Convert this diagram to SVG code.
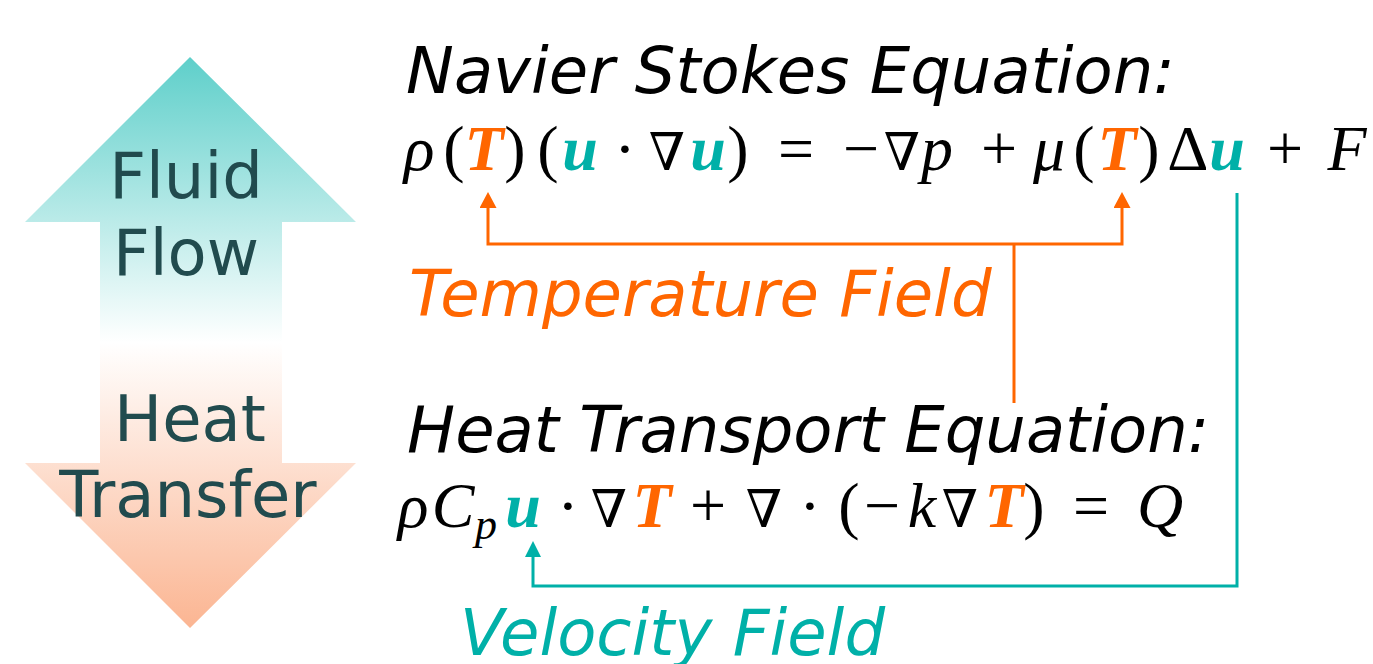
<svg xmlns="http://www.w3.org/2000/svg" width="1373" height="664" viewBox="0 0 1373 664">
  <style>
    .side { font-family: "DejaVu Sans", Verdana, sans-serif; font-size: 64px; fill: #214b4e; text-anchor: middle; }
    .title { font-family: "DejaVu Sans", Verdana, sans-serif; font-size: 64px; font-style: oblique; fill: #000000; }
    .label { font-family: "DejaVu Sans", Verdana, sans-serif; font-size: 64px; font-style: oblique; }
    .math { font-family: "Liberation Serif", "DejaVu Serif", serif; font-size: 64px; fill: #000000; text-anchor: middle; }
    .mi { font-style: italic; }
    .nabla { font-family: "DejaVu Serif", serif; font-style: italic; font-size: 52px; }
    .T { font-style: italic; font-weight: bold; fill: #ff6600; }
    .u { font-style: italic; font-weight: bold; fill: #00b0a8; }
    .orange { fill: #ff6600; }
    .teal { fill: #00b0a8; }
    .conn-o { fill: none; stroke: #ff6600; stroke-width: 3; }
    .conn-t { fill: none; stroke: #00b0a8; stroke-width: 3; }
  </style>
  <defs>
    <linearGradient id="arrowGrad" gradientUnits="userSpaceOnUse" x1="0" y1="57" x2="0" y2="628">
      <stop offset="0" stop-color="#5ecfca"/>
      <stop offset="0.5" stop-color="#ffffff"/>
      <stop offset="1" stop-color="#fbb592"/>
    </linearGradient>
    <marker id="headO" markerUnits="userSpaceOnUse" markerWidth="16" markerHeight="17" refX="0" refY="8.5" orient="auto-start-reverse">
      <path d="M0,0 L16,8.5 L0,17 z" fill="#ff6600"/>
    </marker>
    <marker id="headT" markerUnits="userSpaceOnUse" markerWidth="16" markerHeight="16" refX="0" refY="8" orient="auto-start-reverse">
      <path d="M0,0 L16,8 L0,16 z" fill="#00b0a8"/>
    </marker>
  </defs>

  <g id="double-arrow">
    <polygon points="190,57 356,222 282,222 282,463 356,463 190,628 25,463 100,463 100,222 25,222" fill="url(#arrowGrad)"/>
    <text class="side" x="186" y="198">Fluid</text>
    <text class="side" x="186" y="275">Flow</text>
    <text class="side" x="190" y="441">Heat</text>
    <text class="side" x="188" y="517">Transfer</text>
  </g>

  <g id="navier-stokes-title">
    <text class="title" x="406" y="93">Navier Stokes Equation:</text>
  </g>

  <g id="navier-stokes-equation">
    <text class="math" y="170">
      <tspan class="mi" x="427">ρ</tspan>
      <tspan x="462">(</tspan>
      <tspan class="T" x="492">T</tspan>
      <tspan x="523">)</tspan>
      <tspan x="556">(</tspan>
      <tspan class="u" x="588">u</tspan>
      <tspan x="633">·</tspan>
      <tspan class="nabla" x="675">∇</tspan>
      <tspan class="u" x="716">u</tspan>
      <tspan x="746">)</tspan>
      <tspan x="804">=</tspan>
      <tspan x="869">−</tspan>
      <tspan class="nabla" x="910">∇</tspan>
      <tspan class="mi" x="945">p</tspan>
      <tspan x="1007">+</tspan>
      <tspan class="mi" x="1057">μ</tspan>
      <tspan x="1092">(</tspan>
      <tspan class="T" x="1125">T</tspan>
      <tspan x="1157">)</tspan>
      <tspan x="1194">Δ</tspan>
      <tspan class="u" x="1235">u</tspan>
      <tspan x="1293">+</tspan>
      <tspan class="mi" x="1347">F</tspan>
    </text>
  </g>

  <g id="temperature-field-label">
    <text class="label orange" x="409" y="316">Temperature Field</text>
  </g>

  <g id="heat-transport-title">
    <text class="title" x="407" y="452">Heat Transport Equation:</text>
  </g>

  <g id="heat-transport-equation">
    <text class="math" y="527">
      <tspan class="mi" x="421">ρ</tspan>
      <tspan class="mi" x="461">C</tspan>
      <tspan class="mi" x="494" y="539" style="font-size:44px">p</tspan>
      <tspan class="u" x="531" y="527">u</tspan>
      <tspan x="576">·</tspan>
      <tspan class="nabla" x="617">∇</tspan>
      <tspan class="T" x="660">T</tspan>
      <tspan x="716">+</tspan>
      <tspan class="nabla" x="772">∇</tspan>
      <tspan x="818">·</tspan>
      <tspan x="857">(</tspan>
      <tspan x="890">−</tspan>
      <tspan class="mi" x="930">k</tspan>
      <tspan class="nabla" x="968">∇</tspan>
      <tspan class="T" x="1012">T</tspan>
      <tspan x="1042">)</tspan>
      <tspan x="1099">=</tspan>
      <tspan class="mi" x="1160">Q</tspan>
    </text>
  </g>

  <g id="velocity-field-label">
    <text class="label teal" x="460" y="655">Velocity Field</text>
  </g>

  <g id="connectors">
    <path class="conn-o" d="M1014,403 V244"/>
    <path class="conn-o" d="M488,208 V244 H1122 V208" marker-start="url(#headO)" marker-end="url(#headO)"/>
    <path class="conn-t" d="M1237,193 V586 H533 V557" marker-end="url(#headT)"/>
  </g>
</svg>
